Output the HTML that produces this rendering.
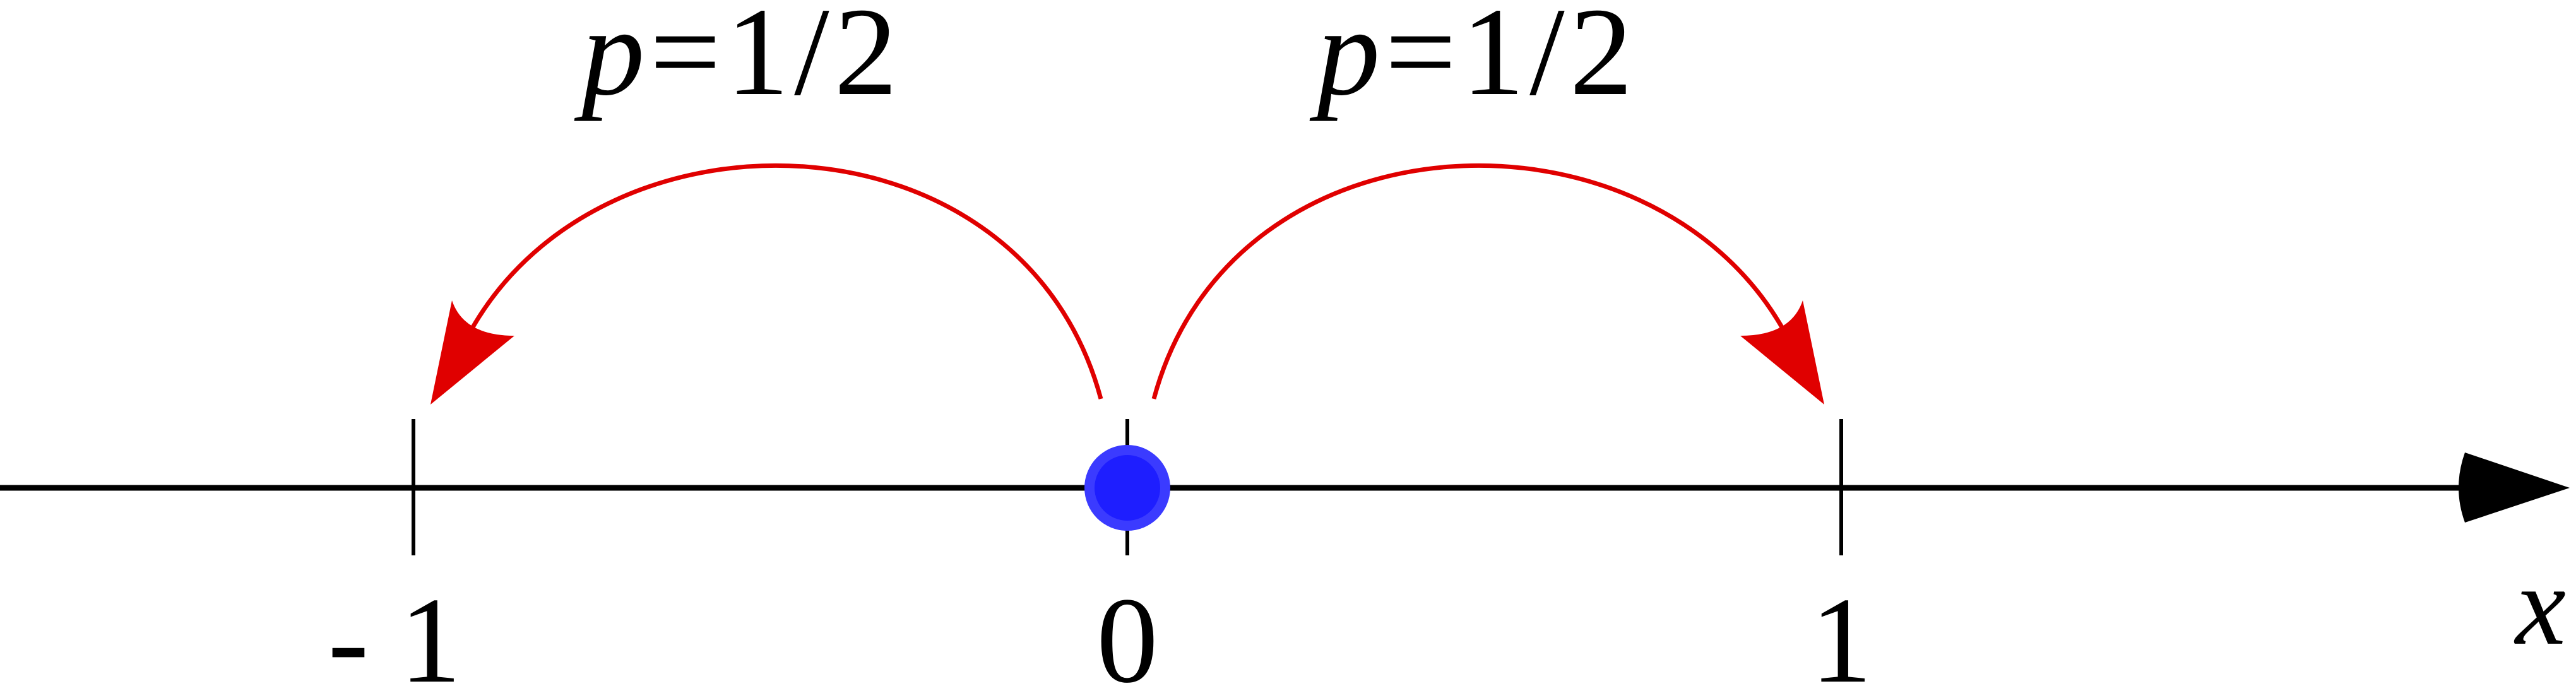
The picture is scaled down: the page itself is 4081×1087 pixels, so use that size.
<!DOCTYPE html>
<html><head><meta charset="utf-8"><style>
html,body{margin:0;padding:0;background:#fff;}
svg{display:block;}
</style></head><body>
<svg id="chart" width="4081" height="1087" viewBox="0 0 4081 1087" xmlns="http://www.w3.org/2000/svg">
<line x1="0" y1="773" x2="3920" y2="773" stroke="#000" stroke-width="9"/>
<path d="M3905,717 L4071,773 L3905,828 Q3885,773 3905,717 Z" fill="#000"/>
<text x="3985" y="1020" font-family="Liberation Serif, serif" font-style="italic" font-size="180">x</text>
<g id="ticks"></g>
<g id="arcs"></g>
<g id="pt"></g>
</svg>
<script>
const tickValues=[-1,0,1];
const tickLabels=["- 1","0","1"];
const pointValue=0;
const jumpTargets=[-1,1];
const jumpLabels=["p=1/2","p=1/2"];
const NS="http://www.w3.org/2000/svg";
function xs(v){return 1786+v*1131;}
const axisY=773;
const tg=document.getElementById('ticks');
tickValues.forEach((v,i)=>{
  const l=document.createElementNS(NS,'line');
  
  
  l.setAttribute('x1',xs(v));l.setAttribute('x2',xs(v));
  l.setAttribute('y1',664);l.setAttribute('y2',880);
  l.setAttribute('stroke','#000');l.setAttribute('stroke-width',6);
  tg.appendChild(l);
  const t=document.createElementNS(NS,'text');
  
  
  t.setAttribute('x',xs(v)+(v<0?-30:0));t.setAttribute('y',1080);
  t.setAttribute('text-anchor','middle');
  t.setAttribute('font-family','Liberation Serif, serif');
  t.setAttribute('font-size','195');
  t.textContent=tickLabels[i];
  tg.appendChild(t);
});
const ag=document.getElementById('arcs');
jumpTargets.forEach((v,i)=>{
  const s=v<0?-1:1;
  const x0=xs(pointValue), xt=xs(v);
  const sx=x0+s*42, ex=xt-s*92;
  const p1=x0+s*166, p2=xt-s*303;
  const p=document.createElementNS(NS,'path');
  
  
  p.setAttribute('d',`M${sx},632 C${p1},170 ${p2},150 ${ex},522`);
  p.setAttribute('fill','none');p.setAttribute('stroke','#e00000');p.setAttribute('stroke-width',7);
  ag.appendChild(p);
  const h=document.createElementNS(NS,'path');
  
  
  h.setAttribute('d',`M${xt-s*27},641 L${xt-s*61},476 Q${xt-s*80},532 ${xt-s*160},532 Z`);
  h.setAttribute('fill','#e00000');
  ag.appendChild(h);
  const t=document.createElementNS(NS,'text');
  
  
  t.setAttribute('x',(x0+xt)/2+(s<0?-45:-11));t.setAttribute('y',149);
  t.setAttribute('text-anchor','middle');
  t.setAttribute('font-family','Liberation Serif, serif');
  t.setAttribute('font-size','200');
  t.setAttribute('letter-spacing','8');
  t.innerHTML='<tspan font-style="italic">p</tspan>=1/2';
  ag.appendChild(t);
});
const pg=document.getElementById('pt');
const c1=document.createElementNS(NS,'circle');


c1.setAttribute('cx',xs(pointValue));c1.setAttribute('cy',axisY);c1.setAttribute('r',68);c1.setAttribute('fill','#3b3bff');
pg.appendChild(c1);
const c2=document.createElementNS(NS,'circle');


c2.setAttribute('cx',xs(pointValue));c2.setAttribute('cy',axisY);c2.setAttribute('r',52);c2.setAttribute('fill','#1e1eff');
pg.appendChild(c2);
</script>
</body></html>
